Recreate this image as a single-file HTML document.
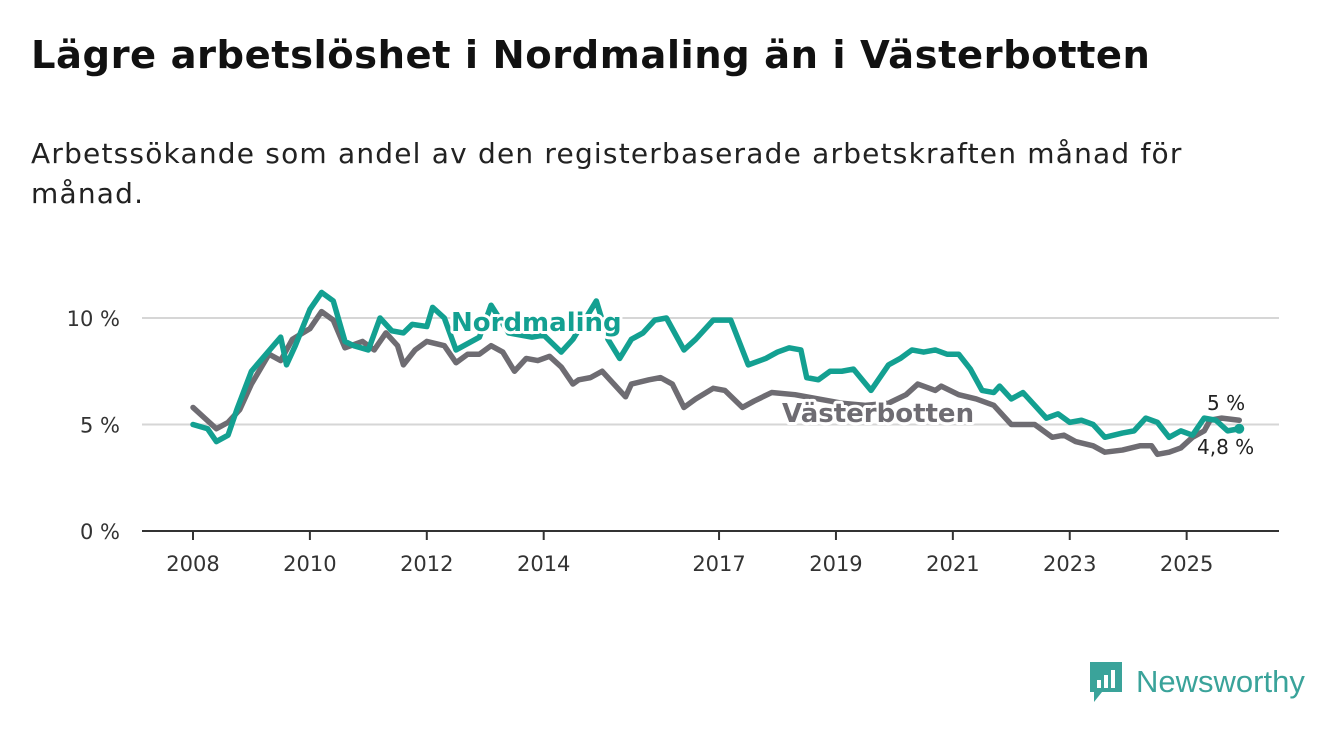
<!DOCTYPE html>
<html><head><meta charset="utf-8"><style>
body{margin:0;background:#fff;width:1340px;height:734px;overflow:hidden;font-family:"DejaVu Sans","Liberation Sans",sans-serif}
h1{position:absolute;left:31px;top:33px;margin:0;font-size:38.5px;letter-spacing:0.5px;font-weight:bold;color:#111;white-space:nowrap}
p{position:absolute;left:31px;top:134px;margin:0;font-size:28px;letter-spacing:1.2px;line-height:40px;color:#222;white-space:nowrap}
</style></head><body>
<h1>Lägre arbetslöshet i Nordmaling än i Västerbotten</h1>
<p>Arbetssökande som andel av den registerbaserade arbetskraften månad för<br>månad.</p>
<svg id="chart" width="1340" height="734" style="position:absolute;left:0;top:0;font-family:'DejaVu Sans','Liberation Sans',sans-serif"></svg>
<div style="position:absolute;left:1088px;top:660px;display:flex;align-items:center">
<svg width="36" height="44"><path d="M2 2h32v30H14l-8 10v-10H2z" fill="#3aa39a"/><rect x="9" y="20" width="4" height="8" fill="#fff"/><rect x="16" y="15" width="4" height="13" fill="#fff"/><rect x="23" y="10" width="4" height="18" fill="#fff"/></svg>
<span style="font-family:'Liberation Sans',sans-serif;font-size:31px;color:#3aa39a;margin-left:12px">Newsworthy</span></div>
<script>
const yTicks=[0,5,10];
const yTickLabels=["0 %","5 %","10 %"];
const xTicks=[2008,2010,2012,2014,2017,2019,2021,2023,2025];
const nordDates=[2008,2008.25,2008.4,2008.6,2008.75,2009,2009.25,2009.5,2009.6,2009.75,2010,2010.2,2010.4,2010.6,2010.75,2011,2011.2,2011.4,2011.6,2011.75,2012,2012.1,2012.3,2012.5,2012.7,2012.9,2013.1,2013.4,2013.8,2014,2014.3,2014.5,2014.9,2015.1,2015.3,2015.5,2015.7,2015.9,2016.1,2016.4,2016.6,2016.9,2017.2,2017.5,2017.8,2018,2018.2,2018.4,2018.5,2018.7,2018.9,2019.1,2019.3,2019.6,2019.9,2020.1,2020.3,2020.5,2020.7,2020.9,2021.1,2021.3,2021.5,2021.7,2021.8,2022,2022.2,2022.4,2022.6,2022.8,2023,2023.2,2023.4,2023.6,2023.9,2024.1,2024.3,2024.5,2024.7,2024.9,2025.1,2025.3,2025.5,2025.7,2025.9];
const nordValues=[5.0,4.8,4.2,4.5,5.7,7.5,8.3,9.1,7.8,8.7,10.4,11.2,10.8,8.9,8.7,8.5,10.0,9.4,9.3,9.7,9.6,10.5,10.0,8.5,8.8,9.1,10.6,9.3,9.1,9.2,8.4,9.0,10.8,9.0,8.1,9.0,9.3,9.9,10.0,8.5,9.0,9.9,9.9,7.8,8.1,8.4,8.6,8.5,7.2,7.1,7.5,7.5,7.6,6.6,7.8,8.1,8.5,8.4,8.5,8.3,8.3,7.6,6.6,6.5,6.8,6.2,6.5,5.9,5.3,5.5,5.1,5.2,5.0,4.4,4.6,4.7,5.3,5.1,4.4,4.7,4.5,5.3,5.2,4.7,4.8];
const vbDates=[2008,2008.2,2008.4,2008.6,2008.8,2009,2009.3,2009.5,2009.7,2010,2010.2,2010.4,2010.6,2010.9,2011.1,2011.3,2011.5,2011.6,2011.8,2012,2012.3,2012.5,2012.7,2012.9,2013.1,2013.3,2013.5,2013.7,2013.9,2014.1,2014.3,2014.5,2014.6,2014.8,2015,2015.2,2015.4,2015.5,2015.8,2016,2016.2,2016.4,2016.6,2016.9,2017.1,2017.4,2017.6,2017.9,2018.3,2018.7,2019.1,2019.5,2019.9,2020.2,2020.4,2020.7,2020.8,2021.1,2021.4,2021.7,2022,2022.4,2022.7,2022.9,2023.1,2023.4,2023.6,2023.9,2024.2,2024.4,2024.5,2024.7,2024.9,2025.1,2025.3,2025.4,2025.6,2025.9];
const vbValues=[5.8,5.3,4.8,5.1,5.7,6.9,8.3,8.0,9.0,9.5,10.3,9.9,8.6,8.9,8.5,9.3,8.7,7.8,8.5,8.9,8.7,7.9,8.3,8.3,8.7,8.4,7.5,8.1,8.0,8.2,7.7,6.9,7.1,7.2,7.5,6.9,6.3,6.9,7.1,7.2,6.9,5.8,6.2,6.7,6.6,5.8,6.1,6.5,6.4,6.2,6.0,5.9,6.0,6.4,6.9,6.6,6.8,6.4,6.2,5.9,5.0,5.0,4.4,4.5,4.2,4.0,3.7,3.8,4.0,4.0,3.6,3.7,3.9,4.4,4.7,5.2,5.3,5.2];
const NS="http://www.w3.org/2000/svg";
const svg=document.getElementById('chart');
const X=t=>193+(t-2008)*58.45;
const Y=v=>531-v*21.3;
function mk(tag,attrs){const e=document.createElementNS(NS,tag);for(const k in attrs)e.setAttribute(k,attrs[k]);svg.appendChild(e);return e;}
yTicks.forEach((v,i)=>{
 if(v>0){const g=mk('line',{x1:142,x2:1279,y1:Y(v),y2:Y(v),stroke:'#d6d6d6','stroke-width':2});
 
 }
 const t=mk('text',{x:120,y:Y(v)+8,'text-anchor':'end','font-size':21,fill:'#333'});t.textContent=yTickLabels[i];
 
 
});
const ax=mk('line',{x1:142,x2:1279,y1:531,y2:531,stroke:'#333','stroke-width':2});


xTicks.forEach(yr=>{
 const tk=mk('line',{x1:X(yr),x2:X(yr),y1:531,y2:540,stroke:'#333','stroke-width':2});
 
 
 const t=mk('text',{x:X(yr),y:571,'text-anchor':'middle','font-size':21,fill:'#333'});t.textContent=yr;
 
 
});
function line(d,v,c,name){
 const p=mk('polyline',{points:d.map((t,i)=>X(t)+','+Y(v[i])).join(' '),fill:'none',stroke:c,'stroke-width':5.5,'stroke-linejoin':'round','stroke-linecap':'round'});
 
 
 return p;
}
line(vbDates,vbValues,'#6e6c72','vasterbotten-line');
line(nordDates,nordValues,'#13a091','nordmaling-line');
const dn=mk('circle',{cx:X(nordDates[nordDates.length-1]),cy:Y(nordValues[nordValues.length-1]),r:5,fill:'#13a091'});


function lab(x,y,txt,c,name,bold,size){
 const t=mk('text',{x:x,y:y,'font-size':size,'font-weight':bold?'bold':'normal',fill:c,stroke:'#fff','stroke-width':6,'paint-order':'stroke','stroke-linejoin':'round'});
 t.textContent=txt;
 
 
}
lab(451,331,'Nordmaling','#13a091','nordmaling-label',true,26);
lab(782,422,'Västerbotten','#6e6c72','vasterbotten-label',true,26);
lab(1207,410,'5 %','#222','vasterbotten-end-value',false,20);
lab(1197,454,'4,8 %','#222','nordmaling-end-value',false,20);
</script>
</body></html>
